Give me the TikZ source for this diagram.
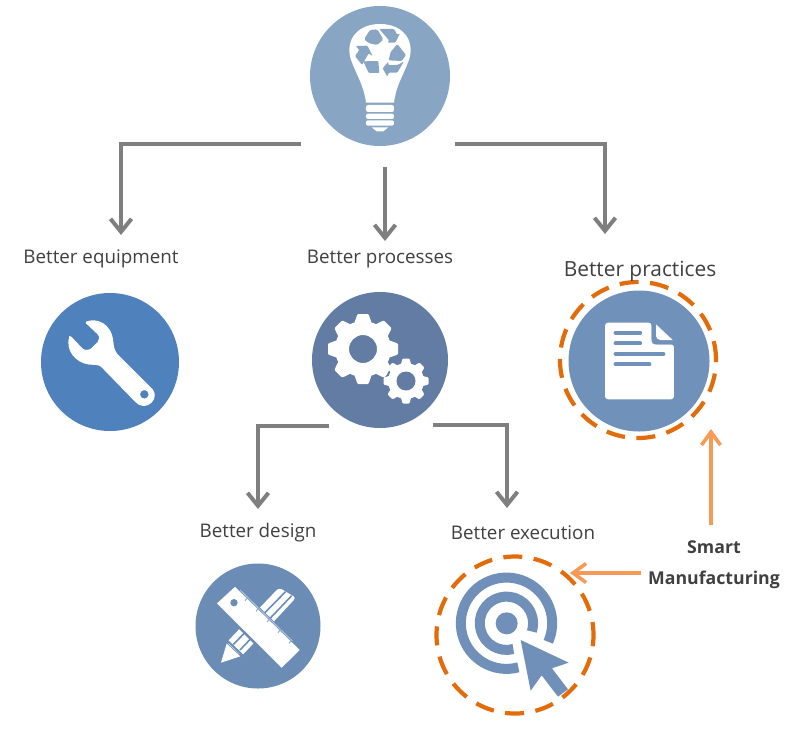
\documentclass[tikz,border=0pt]{standalone}
\usepackage{fontspec}
\setmainfont{Open Sans}
\usetikzlibrary{arrows.meta}
\definecolor{cbulb}{HTML}{88A5C4}
\definecolor{cwrench}{HTML}{4F81BD}
\definecolor{cgear}{HTML}{627CA3}
\definecolor{cdoc}{HTML}{7092BA}
\definecolor{cruler}{HTML}{6B8DB5}
\definecolor{ctarget}{HTML}{7090BA}
\definecolor{cgray}{HTML}{7F7F7F}
\definecolor{corange}{HTML}{E36C0A}
\definecolor{clight}{HTML}{F79A55}
\definecolor{ctext}{HTML}{404040}
\tikzset{
  disc/.style={circle,inner sep=0pt,minimum size=#1},
  lbl/.style={text=ctext,font=\fontsize{18.8}{22}\selectfont,inner sep=0pt,anchor=center},
  conn/.style={draw=cgray,line width=4pt,-{Straight Barb[length=13pt,width=21pt,line width=4pt]}},
  smartconn/.style={draw=clight,line width=3.6pt,-{Straight Barb[length=13pt,width=19pt,line width=3.6pt]}},
  ring/.style={circle,inner sep=0pt,draw=corange,line width=4.2pt,dash pattern=on 19pt off 11.5pt},
}
\begin{document}
\begin{tikzpicture}[x=1pt,y=-1pt]
\useasboundingbox (0,0) rectangle (802,734);
\fill[white] (0,0) rectangle (802,734);

% discs
\node[disc=140pt,fill=cbulb] (bulb) at (380,76) {};
\node[disc=138pt,fill=cwrench] (wrench) at (110,362) {};
\node[disc=136pt,fill=cgear] (gears) at (380,360) {};
\node[disc=141pt,fill=cdoc] (doc) at (639,361) {};
\node[disc=125pt,fill=cruler] (ruler) at (258,626) {};

% bulb icon
\begin{scope}[shift={(290,0)},x=0.3333pt,y=-0.3333pt]
  \fill[white] (228,308) .. controls (222,260) and (205,235) .. (187,190)
     .. controls (160,130) and (195,72) .. (270,72)
     .. controls (345,72) and (380,130) .. (353,190)
     .. controls (335,235) and (318,260) .. (312,308) -- cycle;
  \fill[white,rounded corners=2pt] (228,315) rectangle (312,336);
  \fill[white,rounded corners=2pt] (228,341) rectangle (312,357);
  \fill[white,rounded corners=2pt] (228,361) rectangle (312,377);
  \fill[white] (245,382) -- (295,382) -- (280,394) -- (260,394) -- cycle;
  \fill[cbulb,rounded corners=1.5pt] (222,118) -- (240,90) -- (262,88) -- (280,118) -- (262,135) -- (238,130) -- cycle;
  \fill[cbulb,rounded corners=1pt] (268,87) -- (312,87) -- (322,104) -- (330,100) -- (316,128) -- (292,128) -- (298,122) -- cycle;
  \fill[cbulb,rounded corners=1pt] (302,156) -- (322,132) -- (348,165) -- (335,183) -- (296,181) -- cycle;
  \fill[cbulb,rounded corners=1pt] (278,205) -- (295,185) -- (295,196) -- (325,194) -- (342,184) -- (322,218) -- (296,218) -- (292,230) -- cycle;
  \fill[cbulb,rounded corners=1pt] (220,184) -- (265,183) -- (268,219) -- (236,219) -- cycle;
  \fill[cbulb,rounded corners=1pt] (197,138) -- (232,137) -- (248,168) -- (236,160) -- (216,195) -- (195,168) -- (208,150) -- cycle;
\end{scope}

% wrench icon
\begin{scope}[shift={(30,280)},x=0.3333pt,y=-0.3333pt]
  \fill[white,even odd rule] (168,125) .. controls (200,112) and (245,130) .. (250,185)
     .. controls (252,200) and (252,208) .. (262,222)
     -- (368,328) .. controls (385,350) and (365,378) .. (340,378)
     .. controls (330,378) and (322,372) .. (316,366)
     -- (215,262) .. controls (205,252) and (190,255) .. (178,254)
     .. controls (135,248) and (105,210) .. (118,168)
     -- (124,170) -- (158,206) .. controls (165,212) and (178,210) .. (184,205)
     -- (203,186) .. controls (208,180) and (210,170) .. (202,162)
     -- (168,130) -- cycle
     (343,343) circle[radius=13];
\end{scope}

% gears icon
\begin{scope}[shift={(363,349)}]
  \foreach \a in {0,45,...,315}
    \fill[white,rotate=\a,rounded corners=1pt] (-9,-25) -- (-5.5,-35) -- (5.5,-35) -- (9,-25) -- cycle;
  \fill[white,even odd rule] (0,0) circle[radius=28] (0,0) circle[radius=14];
\end{scope}
\begin{scope}[shift={(406,381)}]
  \fill[cgear] (0,0) circle[radius=20];
  \fill[white] (0,0) circle[radius=18];
  \foreach \a in {0,45,...,315}
    \fill[white,rotate=\a,rounded corners=1pt] (-5.5,-15) -- (-3.5,-22.5) -- (3.5,-22.5) -- (5.5,-15) -- cycle;
  \fill[cgear] (0,0) circle[radius=9.5];
\end{scope}

% document icon
\begin{scope}[shift={(550,275)},x=0.3333pt,y=-0.3333pt]
  \fill[white,rounded corners=3pt] (165,143) -- (305,143) -- (305,208) -- (372,208) -- (372,373) -- (165,373) -- cycle;
  \fill[cdoc] (305,143) -- (372,143) -- (372,208) -- (322,208) .. controls (310,208) and (305,200) .. (305,190) -- cycle;
  \fill[white] (318,148) -- (368,195) -- (332,195) .. controls (324,195) and (318,190) .. (318,182) -- cycle;
  \draw[cdoc,line width=4.3pt,line cap=round] (197,173) -- (270,173) (197,205) -- (270,205) (197,237) -- (340,237) (197,268) -- (298,268);
\end{scope}

% ruler and pencil icon
\begin{scope}[shift={(185,555)},x=0.3333pt,y=-0.3333pt]
  \fill[white,rounded corners=3pt] (282,98) -- (333,128) -- (170,303) -- (125,262) -- cycle;
  \draw[cruler,line width=1.6pt] (302,110) -- (145,268) (320,122) -- (165,285);
  \draw[cruler,line width=2pt] (128,258) -- (172,300);
  \fill[white] (108,323) -- (125,266) -- (166,304) -- cycle;
  \fill[white,draw=cruler,line width=2.4pt,line join=round] (150,90) -- (350,285) -- (290,344) -- (90,145) -- cycle;
  \fill[cruler] (147,143) circle[radius=11];
  \draw[cruler!55,line width=1pt] (165,105) -- (322,258);
  \foreach \p in {0,1,2,3,4}
    \draw[cruler!70,line width=1pt] (188+\p*33,127+\p*32) -- (180+\p*33,137+\p*32);
\end{scope}

% target icon
\begin{scope}[shift={(430,550)},x=0.3333pt,y=-0.3333pt]
  \draw[ctarget,line width=10pt] (265,352) arc[start angle=75,end angle=384,radius=137];
  \draw[ctarget,line width=10pt] (250,297) arc[start angle=75,end angle=378,radius=80];
  \fill[ctarget] (230,220) circle[radius=33];
  \fill[ctarget] (272,270) -- (416,338) -- (366,355) -- (414,418) -- (384,440) -- (335,376) -- (302,422) -- cycle;
\end{scope}

% rings
\node[ring,minimum size=156pt] (docring) at (638,360) {};
\node[ring,minimum size=157pt,dash phase=6pt] (tgtring) at (515,635) {};

% labels
\node[lbl] (equip) at (101,259) {Better equipment};
\node[lbl] (proc) at (380,259) {Better processes};
\node[lbl,font=\fontsize{20.9}{24}\selectfont] (pract) at (640,271) {Better practices};
\node[lbl] (design) at (258,533) {Better design};
\node[lbl] (exec) at (523,533) {Better execution};
\node[lbl,font=\bfseries\fontsize{17.7}{31}\selectfont,align=center] (smart) at (714,565) {Smart\\Manufacturing};

% connectors
\draw[conn] ([shift={(-79,68)}]bulb.center) -| ([shift={(20,-24)}]equip.center);
\draw[conn] ([shift={(5,91)}]bulb.center) -- ([shift={(5,-18)}]proc.center);
\draw[conn] ([shift={(75,68)}]bulb.center) -| ([shift={(-35,-37)}]pract.center);
\draw[conn] ([shift={(-51,66)}]gears.center) -| ([shift={(0,-24)}]design.center);
\draw[conn] ([shift={(53,65)}]gears.center) -| ([shift={(-16,-25)}]exec.center);
\draw[smartconn] ([shift={(-3,-40)}]smart.center) -- ([shift={(73,69)}]docring.center);
\draw[smartconn] ([shift={(-73,8)}]smart.center) -- ([shift={(55,-62)}]tgtring.center);
\end{tikzpicture}
\end{document}
